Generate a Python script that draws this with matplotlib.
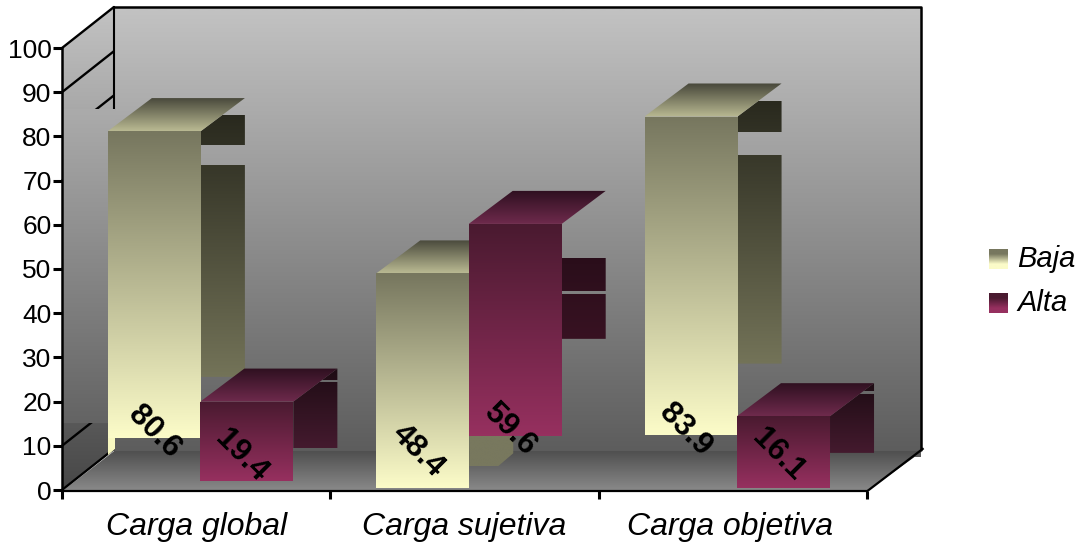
#!/usr/bin/env python3
import numpy as np
from matplotlib import pyplot as plt
from matplotlib.colors import to_rgb
from matplotlib.patches import Polygon

categories = ['Carga global', 'Carga sujetiva', 'Carga objetiva']
baja = [80.6, 48.4, 83.9]
alta = [19.4, 59.6, 16.1]
y_ticks = list(range(0, 101, 10))

plt.rcParams['font.family'] = ['Liberation Sans', 'DejaVu Sans']

# bars in the picture float and are cut up, so keep that layout apart from the values
BAR_LIFT = 0.6
BAR_WIDTH = 0.3466
BAR_OFFSET = 0.171
BAR_DX, BAR_DY = 0.164, 7.47
WALL_DX, WALL_DY = 0.194, 9.3
WALL_RIGHT = 3.2015
FLOOR_BACK = 8.8
LABEL_SHIFT = -0.02
baja_layout = [
    dict(base=11.8, side_base=25.6, bands=[(84.8, 78.05), (73.5, 25.6)], label_y=13.1, label_dx=0.0),
    dict(base=0.45, side_base=5.4, bands=[(12.2, 5.4)], label_y=8.8, cut=(0.056, 2.9), side=('#78785e', '#78785e')),
    dict(base=12.4, side_base=28.6, bands=[(88.0, 81.0), (75.8, 28.6)], label_y=13.6),
]
alta_layout = [
    dict(base=2.0, side_base=9.5, bands=[(27.6, 24.9), (24.4, 9.5)], label_y=7.7),
    dict(base=12.2, side_base=34.2, bands=[(52.3, 45.0), (44.3, 34.2)], label_y=13.6, side=('#1e0a14', '#381222')),
    dict(base=0.45, side_base=8.4, bands=[(24.2, 22.4), (21.7, 8.4)], label_y=7.9),
]
baja_colors = dict(front=('#77775f', '#fbfbc8'), top=('#47473a', '#b9b992'), side=('#24241a', '#737358'))
alta_colors = dict(front=('#4a1a30', '#96305f'), top=('#2e1020', '#6e2a4c'), side=('#1e0c14', '#441a2e'))

fig = plt.figure(figsize=(10.83, 5.44), dpi=100)
ax = fig.add_axes([62 / 1083, 54 / 544, 805 / 1083, 442 / 544])
ax.set_xlim(0, 3)
ax.set_ylim(0, 100)
ax.autoscale(False)


def mix(c_hi, c_lo, hi, lo, y):
    t = (hi - y) / (hi - lo)
    return np.array(to_rgb(c_hi)) * (1 - t) + np.array(to_rgb(c_lo)) * t


def gradient(points, colors, y_range, band=None, zorder=1):
    # vertical gradient, clipped to a polygon and only painted inside band
    hi, lo = y_range
    band_hi, band_lo = band if band else y_range
    xs = [p[0] for p in points]
    rows = [mix(colors[0], colors[1], hi, lo, y) for y in np.linspace(band_lo, band_hi, 64)]
    im = ax.imshow(np.array(rows)[:, None, :], origin='lower', aspect='auto', interpolation='bilinear',
                   extent=(min(xs), max(xs), band_lo, band_hi), zorder=zorder)
    im.set_clip_path(Polygon(points, closed=True, transform=ax.transData))
    im.set_clip_box(fig.bbox)


def draw_bar(x, value, layout, colors):
    top = value + BAR_LIFT
    base = layout['base']
    x2 = x + BAR_WIDTH
    side = [(x2, top), (x2 + BAR_DX, top + BAR_DY)]
    if 'cut' in layout:
        cut_x, cut_y = layout['cut']
        side += [(x2 + BAR_DX, layout['side_base'] + cut_y), (x2 + BAR_DX - cut_x, layout['side_base'])]
    else:
        side.append((x2 + BAR_DX, layout['side_base']))
    side.append((x2, layout['side_base']))
    side_colors = layout.get('side', colors['side'])
    for band in layout['bands']:
        gradient(side, side_colors, (top + BAR_DY, layout['side_base']), band=band, zorder=3)
    gradient([(x, top), (x2, top), (x2 + BAR_DX, top + BAR_DY), (x + BAR_DX, top + BAR_DY)],
             colors['top'], (top + BAR_DY, top), zorder=3)
    gradient([(x, top), (x2, top), (x2, base), (x, base)], colors['front'], (top, base), zorder=3)
    label_x = x + BAR_WIDTH / 2 + layout.get('label_dx', LABEL_SHIFT)
    ax.text(label_x, layout['label_y'], f'{value}', rotation=-45, rotation_mode='anchor',
            ha='center', va='center', fontsize=22.5, fontweight='bold', color='black', zorder=6, clip_on=False)


# back wall, left wall and floor
wall_top = 100 + WALL_DY
wall_colors = ('#c2c2c2', '#5e5e5e')
gradient([(WALL_DX, wall_top), (WALL_RIGHT, wall_top), (WALL_RIGHT, 7.5), (WALL_DX, 7.5)],
         wall_colors, (wall_top, WALL_DY), band=(wall_top, 7.5), zorder=0)
gradient([(0, 100), (WALL_DX, wall_top), (WALL_DX, WALL_DY), (0, 0)],
         ('#c2c2c2', '#484848'), (wall_top, 0), zorder=0)
gradient([(0, -0.3), (3, -0.3), (WALL_RIGHT + 0.006, FLOOR_BACK), (WALL_DX, FLOOR_BACK)],
         ('#4e4e4e', '#8a8a8a'), (FLOOR_BACK, -0.3), zorder=1)

# slanted grid marks on the left wall
for v in y_ticks:
    ax.plot([0, WALL_DX], [v, v + WALL_DY], color='black', lw=1.7, clip_on=False, zorder=1.2, solid_capstyle='butt')
ax.plot([WALL_DX, WALL_DX], [wall_top, 86.2], color='black', lw=1.5, clip_on=False, zorder=1.2)
ax.plot([WALL_DX, WALL_RIGHT, WALL_RIGHT], [wall_top, wall_top, WALL_DY], color='black', lw=1.8, clip_on=False, zorder=2)
ax.plot([3, WALL_RIGHT + 0.006], [-0.3, WALL_DY], color='black', lw=1.6, clip_on=False, zorder=2)

# piece of back wall pasted over the left wall in the original
gradient([(0, 86.2), (WALL_DX + 0.004, 86.2), (WALL_DX + 0.004, 15.2), (0, 15.2)],
         wall_colors, (wall_top, WALL_DY), band=(86.2, 15.2), zorder=1.5)

# front sliver of the first bar running down the floor edge
ax.add_patch(Polygon([(0.1714, 11.8), (0.1975, 11.8), (0.1975, 9.3), (0.1714, 7.9)], closed=True,
                     facecolor='#f8f8c0', edgecolor='none', clip_on=False, zorder=2.5))

for i in range(len(categories)):
    x_baja = i + BAR_OFFSET
    x_alta = x_baja + BAR_WIDTH - 0.002
    draw_bar(x_baja, baja[i], baja_layout[i], baja_colors)
    draw_bar(x_alta, alta[i], alta_layout[i], alta_colors)

# axes
ax.spines['top'].set_visible(False)
ax.spines['right'].set_visible(False)
ax.spines['left'].set_linewidth(1.8)
ax.spines['bottom'].set_linewidth(1.6)
ax.spines['bottom'].set_position(('data', -0.3))
ax.spines['left'].set_bounds(0, 100)
ax.set_yticks(y_ticks)
ax.tick_params(axis='y', length=6.5, width=2.2, pad=1, labelsize=19)
ax.set_xticks([0, 1, 2, 3])
ax.set_xticklabels([])
ax.tick_params(axis='x', which='major', length=6, width=2.2)
ax.set_xticks([0.5, 1.5, 2.49], minor=True)
ax.set_xticklabels(categories, minor=True, fontsize=23, fontstyle='italic')
ax.tick_params(axis='x', which='minor', length=0, pad=15)

# legend
for name, colors, y_px in [('Baja', baja_colors, 259), ('Alta', alta_colors, 303)]:
    swatch = fig.add_axes([989 / 1083, 1 - (y_px + 10) / 544, 19 / 1083, 20 / 544])
    swatch.imshow(np.array([to_rgb(c) for c in colors['front']])[:, None, :], aspect='auto', interpolation='bilinear')
    swatch.axis('off')
    fig.text(1017 / 1083, 1 - y_px / 544, name, fontsize=21, fontstyle='italic', va='center', ha='left')

fig.savefig('out.png', dpi=100)
